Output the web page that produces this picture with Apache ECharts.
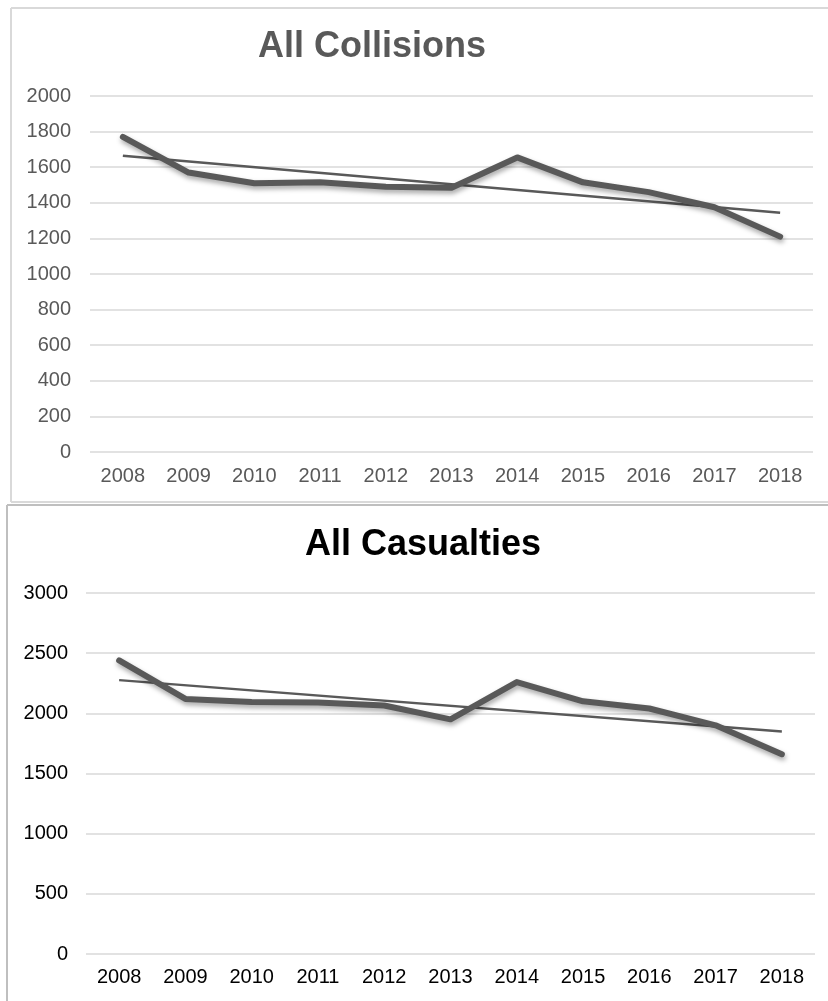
<!DOCTYPE html>
<html>
<head>
<meta charset="utf-8">
<script src="https://cdn.jsdelivr.net/npm/echarts@6/dist/echarts.min.js"></script>
<style>
html,body{margin:0;padding:0;background:#fff;overflow:hidden;}
#c{width:828px;height:1001px;}
</style>
</head>
<body>
<div id="c"></div>
<script>
var years = ['2008','2009','2010','2011','2012','2013','2014','2015','2016','2017','2018'];
var collisions = [1770, 1570, 1510, 1515, 1490, 1485, 1655, 1515, 1460, 1375, 1210];
var collisionsTrend = [1665, 1344];
var casualties = [2440, 2120, 2095, 2090, 2065, 1950, 2260, 2100, 2040, 1900, 1660];
var casualtiesTrend = [2276, 1850];
var collisionsTicks = [0, 2000, 200];
var casualtiesTicks = [0, 3000, 500];

var FONT = '"Liberation Sans", Arial, sans-serif';
var GRAY = '#595959';

function trendData(t) { return [[0, t[0]], [years.length - 1, t[1]]]; }
function plain(v) { return String(v); }
function seg(x1, y1, x2, y2, c) {
  return {type: 'line', shape: {x1: x1, y1: y1, x2: x2, y2: y2},
          style: {stroke: c, lineWidth: 2}, silent: true, z: -1};
}

var chart = echarts.init(document.getElementById('c'), null, {renderer: 'canvas'});
chart.setOption({
  animation: false,
  backgroundColor: '#fff',
  textStyle: {fontFamily: FONT},
  graphic: [
    seg(11, 8, 828, 8, '#d9d9d9'),
    seg(11, 8, 11, 502, '#d9d9d9'),
    seg(11, 502, 828, 502, '#d9d9d9'),
    seg(7, 505, 828, 505, '#bfbfbf'),
    seg(7, 505, 7, 1001, '#bfbfbf')
  ],
  title: [
    {text: 'All Collisions', left: 258, top: 29, padding: 0,
     textStyle: {fontFamily: FONT, fontWeight: 'bold', fontSize: 36, color: GRAY}},
    {text: 'All Casualties', left: 305, top: 527, padding: 0,
     textStyle: {fontFamily: FONT, fontWeight: 'bold', fontSize: 36, color: '#000'}}
  ],
  grid: [
    {left: 90, right: 15, top: 96, bottom: 549, containLabel: false},
    {left: 86, right: 13, top: 593, bottom: 47, containLabel: false}
  ],
  xAxis: [
    {gridIndex: 0, type: 'category', data: years, boundaryGap: true,
     axisLine: {show: false}, axisTick: {show: false},
     axisLabel: {color: GRAY, fontSize: 20, margin: 14, fontFamily: FONT}},
    {gridIndex: 1, type: 'category', data: years, boundaryGap: true,
     axisLine: {show: false}, axisTick: {show: false},
     axisLabel: {color: '#000', fontSize: 20, margin: 13, fontFamily: FONT}}
  ],
  yAxis: [
    {gridIndex: 0, type: 'value', min: collisionsTicks[0], max: collisionsTicks[1], interval: collisionsTicks[2],
     axisLine: {show: false}, axisTick: {show: false},
     axisLabel: {color: GRAY, fontSize: 20, margin: 19, fontFamily: FONT, formatter: plain},
     splitLine: {lineStyle: {color: '#d9d9d9', width: 1.5}}},
    {gridIndex: 1, type: 'value', min: casualtiesTicks[0], max: casualtiesTicks[1], interval: casualtiesTicks[2],
     axisLine: {show: false}, axisTick: {show: false},
     axisLabel: {color: '#000', fontSize: 20, margin: 18, fontFamily: FONT, formatter: plain},
     splitLine: {lineStyle: {color: '#d9d9d9', width: 1.5}}}
  ],
  series: [
    {type: 'line', xAxisIndex: 0, yAxisIndex: 0, data: trendData(collisionsTrend), symbol: 'none',
     lineStyle: {color: GRAY, width: 2.5}, z: 2},
    {type: 'line', xAxisIndex: 0, yAxisIndex: 0, data: collisions, symbol: 'none',
     lineStyle: {color: GRAY, width: 6, cap: 'round', join: 'round',
                 shadowColor: 'rgba(0,0,0,0.35)', shadowBlur: 5, shadowOffsetX: 1, shadowOffsetY: 3}, z: 3},
    {type: 'line', xAxisIndex: 1, yAxisIndex: 1, data: trendData(casualtiesTrend), symbol: 'none',
     lineStyle: {color: GRAY, width: 2.5}, z: 2},
    {type: 'line', xAxisIndex: 1, yAxisIndex: 1, data: casualties, symbol: 'none',
     lineStyle: {color: GRAY, width: 6, cap: 'round', join: 'round',
                 shadowColor: 'rgba(0,0,0,0.35)', shadowBlur: 5, shadowOffsetX: 1, shadowOffsetY: 3}, z: 3}
  ]
});
</script>
</body>
</html>
